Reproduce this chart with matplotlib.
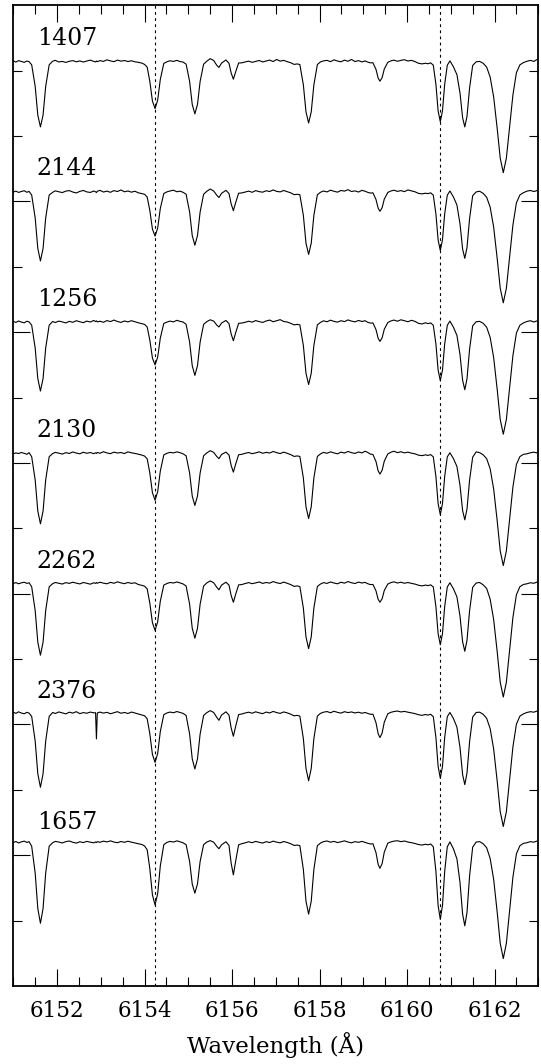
import matplotlib.pyplot as plt
from matplotlib.ticker import MultipleLocator, FixedLocator

# star ids, top to bottom
stars = ['1407', '2144', '1256', '2130', '2262', '2376', '1657']

# wavelength grid (A), shared by all spectra
wave = [
    6151.00, 6151.06, 6151.12, 6151.18, 6151.25, 6151.31, 6151.36,
    6151.42, 6151.50, 6151.56, 6151.62, 6151.68, 6151.74, 6151.82,
    6151.90, 6151.96, 6152.04, 6152.12, 6152.20, 6152.28, 6152.36, 6152.44, 6152.52, 6152.60, 6152.68, 6152.76, 6152.84,
    6152.88, 6152.90, 6152.92,
    6152.98, 6153.06, 6153.14, 6153.22, 6153.30, 6153.38, 6153.46, 6153.54, 6153.62, 6153.70, 6153.78, 6153.86, 6153.94,
    6154.00, 6154.06, 6154.12, 6154.18, 6154.24, 6154.30, 6154.36, 6154.44,
    6154.51, 6154.58, 6154.66, 6154.74, 6154.81, 6154.88,
    6154.95, 6155.03, 6155.09, 6155.15, 6155.21, 6155.27, 6155.35,
    6155.42, 6155.50, 6155.58, 6155.65, 6155.70, 6155.76, 6155.86,
    6155.93, 6155.98, 6156.03, 6156.08, 6156.15,
    6156.22, 6156.30, 6156.38, 6156.46, 6156.54, 6156.62, 6156.70, 6156.78, 6156.86, 6156.94, 6157.02, 6157.10, 6157.18, 6157.26, 6157.34, 6157.42, 6157.49,
    6157.55, 6157.63, 6157.69, 6157.75, 6157.81, 6157.87, 6157.95,
    6158.02, 6158.09, 6158.17, 6158.25, 6158.33, 6158.41, 6158.49, 6158.57, 6158.65, 6158.73, 6158.81, 6158.89, 6158.97, 6159.04, 6159.10, 6159.16,
    6159.22, 6159.29, 6159.34, 6159.38, 6159.43, 6159.48, 6159.56,
    6159.63, 6159.70, 6159.78, 6159.86, 6159.94, 6160.02, 6160.10, 6160.18, 6160.26, 6160.34, 6160.42, 6160.48, 6160.54,
    6160.60, 6160.66, 6160.71, 6160.76, 6160.81, 6160.86, 6160.92,
    6160.98,
    6161.06, 6161.14, 6161.21, 6161.27, 6161.32, 6161.37, 6161.43, 6161.50,
    6161.58, 6161.66, 6161.74, 6161.82,
    6161.90, 6161.98, 6162.06, 6162.13, 6162.20, 6162.27, 6162.34, 6162.42, 6162.50, 6162.58, 6162.66,
    6162.74, 6162.82, 6162.90, 6162.96, 6163.00,
]

flux_1407 = [
    1.075, 1.066, 1.077, 1.071, 1.064, 1.074, 1.069,
    1.045, 0.880, 0.660, 0.570, 0.660, 0.880, 1.045,
    1.073, 1.079, 1.067, 1.071, 1.063, 1.072, 1.077, 1.068, 1.075, 1.066, 1.074, 1.081, 1.071,
    1.067, 1.074, 1.069,
    1.077, 1.071, 1.083, 1.075, 1.069, 1.081, 1.073, 1.078, 1.070, 1.076, 1.068, 1.064, 1.058,
    1.048, 1.027, 0.919, 0.768, 0.710, 0.775, 0.933, 1.056,
    1.068, 1.076, 1.071, 1.079, 1.070, 1.066,
    1.050, 0.918, 0.742, 0.670, 0.742, 0.918, 1.050,
    1.072, 1.092, 1.078, 1.042, 1.025, 1.058, 1.082,
    1.057, 0.982, 0.935, 0.989, 1.059,
    1.060, 1.067, 1.073, 1.064, 1.071, 1.078, 1.067, 1.074, 1.081, 1.070, 1.086, 1.073, 1.079, 1.069, 1.061, 1.048, 1.052,
    1.047, 0.891, 0.685, 0.600, 0.685, 0.891, 1.047,
    1.067, 1.075, 1.079, 1.069, 1.083, 1.074, 1.068, 1.081, 1.072, 1.086, 1.070, 1.077, 1.067, 1.075, 1.066, 1.060,
    1.061, 1.010, 0.943, 0.920, 0.947, 1.013, 1.064,
    1.075, 1.081, 1.072, 1.079, 1.084, 1.074, 1.079, 1.070, 1.057, 1.052, 1.057, 1.053, 1.060,
    1.042, 0.895, 0.693, 0.610, 0.693, 0.895, 1.042,
    1.075,
    1.030, 0.970, 0.830, 0.640, 0.570, 0.650, 0.870, 1.040,
    1.068, 1.071, 1.057, 1.027,
    0.951, 0.798, 0.560, 0.331, 0.220, 0.331, 0.560, 0.815, 0.985, 1.045, 1.062,
    1.072, 1.079, 1.071, 1.084, 1.088,
]

flux_2144 = [
    1.072, 1.079, 1.069, 1.076, 1.082, 1.070, 1.077,
    1.049, 0.874, 0.640, 0.545, 0.640, 0.874, 1.049,
    1.070, 1.081, 1.074, 1.068, 1.079, 1.083, 1.072, 1.065, 1.077, 1.084, 1.073, 1.069, 1.080,
    1.074, 1.068, 1.078,
    1.085, 1.072, 1.079, 1.070, 1.083, 1.076, 1.088, 1.074, 1.080, 1.071, 1.078, 1.066, 1.060,
    1.055, 1.034, 0.932, 0.789, 0.735, 0.796, 0.946, 1.061,
    1.073, 1.080, 1.086, 1.074, 1.079, 1.070,
    1.055, 0.919, 0.739, 0.665, 0.739, 0.919, 1.055,
    1.077, 1.095, 1.080, 1.048, 1.030, 1.062, 1.085,
    1.061, 0.981, 0.930, 0.988, 1.063,
    1.065, 1.072, 1.079, 1.070, 1.083, 1.075, 1.071, 1.082, 1.076, 1.088, 1.077, 1.073, 1.084, 1.075, 1.066, 1.052, 1.055,
    1.051, 0.893, 0.681, 0.595, 0.681, 0.893, 1.051,
    1.070, 1.080, 1.073, 1.086, 1.078, 1.071, 1.084, 1.079, 1.090, 1.076, 1.081, 1.072, 1.085, 1.078, 1.070, 1.064,
    1.066, 1.015, 0.948, 0.925, 0.952, 1.018, 1.069,
    1.080, 1.086, 1.077, 1.083, 1.075, 1.088, 1.081, 1.074, 1.062, 1.058, 1.063, 1.060, 1.066,
    1.048, 0.904, 0.706, 0.625, 0.706, 0.904, 1.048,
    1.080,
    1.034, 0.973, 0.830, 0.636, 0.565, 0.647, 0.871, 1.044,
    1.073, 1.078, 1.062, 1.032,
    0.956, 0.803, 0.565, 0.336, 0.225, 0.336, 0.565, 0.820, 0.990, 1.050, 1.067,
    1.079, 1.084, 1.076, 1.082, 1.090,
]

flux_1256 = [
    1.083, 1.075, 1.086, 1.078, 1.072, 1.084, 1.079,
    1.054, 0.879, 0.645, 0.550, 0.645, 0.879, 1.054,
    1.082, 1.074, 1.085, 1.079, 1.071, 1.083, 1.076, 1.088, 1.080, 1.073, 1.085, 1.078, 1.090,
    1.081, 1.087, 1.079,
    1.084, 1.076, 1.089, 1.081, 1.093, 1.082, 1.075, 1.086, 1.079, 1.088, 1.080, 1.072, 1.065,
    1.060, 1.040, 0.941, 0.803, 0.750, 0.809, 0.955, 1.067,
    1.077, 1.085, 1.079, 1.091, 1.083, 1.078,
    1.060, 0.924, 0.744, 0.670, 0.744, 0.924, 1.060,
    1.080, 1.095, 1.085, 1.055, 1.040, 1.070, 1.090,
    1.066, 0.986, 0.935, 0.993, 1.068,
    1.070, 1.076, 1.084, 1.077, 1.089, 1.081, 1.075, 1.086, 1.093, 1.080, 1.088, 1.096, 1.082, 1.078, 1.068, 1.056, 1.060,
    1.056, 0.898, 0.686, 0.600, 0.686, 0.898, 1.056,
    1.075, 1.087, 1.080, 1.092, 1.083, 1.077, 1.088, 1.081, 1.094, 1.085, 1.079, 1.090, 1.082, 1.088, 1.076, 1.070,
    1.071, 1.020, 0.953, 0.930, 0.957, 1.023, 1.074,
    1.086, 1.093, 1.084, 1.095, 1.088, 1.080, 1.091, 1.083, 1.068, 1.063, 1.072, 1.066, 1.071,
    1.053, 0.909, 0.711, 0.630, 0.711, 0.909, 1.053,
    1.085,
    1.038, 0.976, 0.830, 0.633, 0.560, 0.643, 0.872, 1.049,
    1.080, 1.083, 1.068, 1.038,
    0.960, 0.805, 0.564, 0.332, 0.220, 0.332, 0.564, 0.822, 0.994, 1.054, 1.071,
    1.082, 1.088, 1.078, 1.086, 1.083,
]

flux_2130 = [
    1.070, 1.077, 1.072, 1.080, 1.074, 1.066, 1.079,
    1.048, 0.870, 0.632, 0.535, 0.632, 0.870, 1.048,
    1.072, 1.081, 1.075, 1.068, 1.079, 1.073, 1.084, 1.076, 1.070, 1.082, 1.074, 1.080, 1.071,
    1.078, 1.073, 1.081,
    1.074, 1.086, 1.077, 1.071, 1.083, 1.076, 1.080, 1.072, 1.085, 1.078, 1.073, 1.067, 1.060,
    1.053, 1.032, 0.924, 0.773, 0.715, 0.780, 0.938, 1.061,
    1.074, 1.081, 1.077, 1.085, 1.079, 1.070,
    1.055, 0.923, 0.747, 0.675, 0.747, 0.923, 1.055,
    1.076, 1.094, 1.081, 1.050, 1.033, 1.065, 1.083,
    1.061, 0.981, 0.930, 0.988, 1.063,
    1.066, 1.074, 1.080, 1.071, 1.077, 1.085, 1.074, 1.081, 1.076, 1.088, 1.079, 1.072, 1.083, 1.074, 1.064, 1.050, 1.054,
    1.050, 0.885, 0.665, 0.575, 0.665, 0.885, 1.050,
    1.069, 1.081, 1.074, 1.085, 1.077, 1.070, 1.083, 1.076, 1.088, 1.079, 1.073, 1.084, 1.077, 1.090, 1.081, 1.068,
    1.065, 1.011, 0.939, 0.915, 0.944, 1.014, 1.069,
    1.082, 1.090, 1.079, 1.086, 1.077, 1.083, 1.075, 1.070, 1.060, 1.056, 1.062, 1.058, 1.064,
    1.047, 0.896, 0.690, 0.605, 0.690, 0.896, 1.047,
    1.078,
    1.034, 0.973, 0.830, 0.636, 0.565, 0.647, 0.871, 1.044,
    1.085, 1.079, 1.062, 1.033,
    0.955, 0.800, 0.559, 0.327, 0.215, 0.327, 0.559, 0.817, 0.989, 1.049, 1.066,
    1.070, 1.078, 1.083, 1.077, 1.085,
]

flux_2262 = [
    1.078, 1.085, 1.076, 1.083, 1.088, 1.079, 1.084,
    1.053, 0.871, 0.629, 0.530, 0.629, 0.871, 1.053,
    1.077, 1.086, 1.080, 1.074, 1.085, 1.079, 1.088, 1.081, 1.075, 1.086, 1.080, 1.073, 1.084,
    1.079, 1.086, 1.080,
    1.088, 1.081, 1.076, 1.087, 1.080, 1.091, 1.083, 1.077, 1.086, 1.079, 1.084, 1.070, 1.064,
    1.058, 1.037, 0.929, 0.778, 0.720, 0.785, 0.943, 1.066,
    1.078, 1.086, 1.082, 1.090, 1.083, 1.075,
    1.059, 0.920, 0.736, 0.660, 0.736, 0.920, 1.059,
    1.082, 1.098, 1.084, 1.050, 1.030, 1.066, 1.088,
    1.066, 0.986, 0.935, 0.993, 1.068,
    1.070, 1.078, 1.085, 1.077, 1.083, 1.090, 1.079, 1.086, 1.081, 1.093, 1.084, 1.078, 1.089, 1.080, 1.070, 1.056, 1.060,
    1.055, 0.890, 0.670, 0.580, 0.670, 0.890, 1.055,
    1.074, 1.085, 1.079, 1.090, 1.082, 1.076, 1.088, 1.081, 1.093, 1.084, 1.078, 1.089, 1.082, 1.087, 1.077, 1.070,
    1.071, 1.022, 0.957, 0.935, 0.961, 1.025, 1.074,
    1.085, 1.091, 1.082, 1.088, 1.080, 1.086, 1.079, 1.074, 1.065, 1.060, 1.066, 1.062, 1.068,
    1.052, 0.901, 0.695, 0.610, 0.695, 0.901, 1.052,
    1.084,
    1.038, 0.976, 0.830, 0.633, 0.560, 0.643, 0.872, 1.049,
    1.082, 1.086, 1.068, 1.040,
    0.958, 0.802, 0.558, 0.323, 0.210, 0.323, 0.558, 0.819, 0.993, 1.054, 1.071,
    1.076, 1.084, 1.080, 1.088, 1.086,
]

flux_2376 = [
    1.094, 1.085, 1.097, 1.088, 1.082, 1.093, 1.087,
    1.062, 0.873, 0.623, 0.520, 0.623, 0.873, 1.062,
    1.092, 1.084, 1.096, 1.089, 1.081, 1.094, 1.087, 1.098, 1.083, 1.091, 1.086, 1.095, 1.089,
    1.090, 0.890, 1.088,
    1.095, 1.087, 1.093, 1.082, 1.090, 1.098, 1.086, 1.092, 1.084, 1.095, 1.088, 1.080, 1.073,
    1.067, 1.044, 0.930, 0.771, 0.710, 0.778, 0.946, 1.075,
    1.088, 1.095, 1.090, 1.099, 1.092, 1.085,
    1.069, 0.927, 0.737, 0.660, 0.737, 0.927, 1.069,
    1.090, 1.106, 1.092, 1.055, 1.032, 1.072, 1.097,
    1.072, 0.973, 0.910, 0.982, 1.076,
    1.080, 1.088, 1.094, 1.086, 1.097, 1.089, 1.083, 1.095, 1.088, 1.100, 1.091, 1.085, 1.096, 1.089, 1.079, 1.066, 1.070,
    1.064, 0.892, 0.664, 0.570, 0.664, 0.892, 1.064,
    1.085, 1.094, 1.099, 1.090, 1.101, 1.093, 1.087, 1.098, 1.091, 1.096, 1.088, 1.094, 1.086, 1.092, 1.085, 1.078,
    1.079, 1.014, 0.929, 0.900, 0.934, 1.018, 1.082,
    1.093, 1.099, 1.103, 1.096, 1.100, 1.094, 1.089, 1.083, 1.075, 1.070, 1.076, 1.072, 1.078,
    1.060, 0.900, 0.680, 0.590, 0.680, 0.900, 1.060,
    1.092,
    1.046, 0.980, 0.826, 0.617, 0.540, 0.628, 0.870, 1.057,
    1.092, 1.094, 1.078, 1.047,
    0.968, 0.812, 0.568, 0.333, 0.220, 0.333, 0.568, 0.829, 1.003, 1.064, 1.081,
    1.092, 1.098, 1.094, 1.102, 1.097,
]

flux_1657 = [
    1.097, 1.105, 1.094, 1.102, 1.108, 1.098, 1.104,
    1.069, 0.864, 0.592, 0.480, 0.592, 0.864, 1.069,
    1.096, 1.106, 1.101, 1.094, 1.104, 1.109, 1.099, 1.093, 1.103, 1.097, 1.106, 1.100, 1.095,
    1.102, 1.097, 1.104,
    1.099, 1.108, 1.102, 1.110, 1.101, 1.096, 1.105, 1.099, 1.107, 1.100, 1.094, 1.088, 1.082,
    1.071, 1.042, 0.898, 0.697, 0.620, 0.706, 0.918, 1.081,
    1.098, 1.106, 1.101, 1.110, 1.103, 1.095,
    1.081, 0.952, 0.780, 0.710, 0.780, 0.952, 1.081,
    1.100, 1.112, 1.100, 1.068, 1.050, 1.080, 1.103,
    1.075, 0.938, 0.850, 0.950, 1.080,
    1.088, 1.095, 1.103, 1.096, 1.106, 1.099, 1.093, 1.104, 1.097, 1.108, 1.100, 1.095, 1.105, 1.098, 1.088, 1.075, 1.078,
    1.073, 0.891, 0.649, 0.550, 0.649, 0.891, 1.073,
    1.093, 1.104, 1.109, 1.100, 1.106, 1.097, 1.103, 1.110, 1.101, 1.095, 1.104, 1.099, 1.106, 1.098, 1.092, 1.086,
    1.088, 1.020, 0.930, 0.900, 0.936, 1.024, 1.092,
    1.102, 1.108, 1.111, 1.104, 1.109, 1.101, 1.096, 1.090, 1.082, 1.078, 1.084, 1.080, 1.086,
    1.065, 0.876, 0.616, 0.510, 0.616, 0.876, 1.065,
    1.102,
    1.049, 0.972, 0.793, 0.550, 0.460, 0.562, 0.844, 1.062,
    1.101, 1.104, 1.088, 1.057,
    0.975, 0.815, 0.566, 0.326, 0.210, 0.326, 0.566, 0.833, 1.011, 1.073, 1.091,
    1.096, 1.104, 1.100, 1.108, 1.105,
]

fluxes = [flux_1407, flux_2144, flux_1256, flux_2130, flux_2262, flux_2376, flux_1657]

# Na I lines marked with dotted lines
marked_lines = [6154.24, 6160.75]

xtick_values = [6152, 6154, 6156, 6158, 6160, 6162]


def main():
    font = 'DejaVu Serif'
    fig = plt.figure(figsize=(5.41, 10.64), dpi=100)
    ax = fig.add_axes([0.0246, 0.0733, 0.9704, 0.9217])

    n = len(stars)
    for i, (name, flux) in enumerate(zip(stars, fluxes)):
        off = n - 1 - i
        ax.plot(wave, [f + off for f in flux], color='black', lw=0.8)
        ax.text(6151.54, off + 1.2, name, fontfamily=font, fontsize=17,
                ha='left', va='baseline')

    for w in marked_lines:
        ax.axvline(w, color='black', lw=0.8, linestyle=(0, (2.5, 3)))

    ax.set_xlim(6151, 6163)
    ax.set_ylim(0, 7.5)

    ax.xaxis.set_major_locator(FixedLocator(xtick_values))
    ax.xaxis.set_minor_locator(MultipleLocator(0.5))
    ax.yaxis.set_major_locator(FixedLocator([1, 2, 3, 4, 5, 6]))
    ax.yaxis.set_minor_locator(FixedLocator([0.5, 1.5, 2.5, 3.5, 4.5, 5.5, 6.5, 7.0]))

    ax.tick_params(which='both', direction='in', top=True, right=True,
                   labelleft=False, width=0.8, color='black')
    ax.tick_params(which='major', length=12.5)
    ax.tick_params(which='minor', length=6.5)
    ax.tick_params(axis='x', which='major', pad=10, labelsize=15.5)
    for lab in ax.get_xticklabels():
        lab.set_fontfamily(font)

    for sp in ax.spines.values():
        sp.set_linewidth(1.3)

    ax.set_xlabel('Wavelength (Å)', fontfamily=font, fontsize=16.5, labelpad=7)

    fig.savefig('out.png', dpi=100)


if __name__ == "__main__":
    main()
